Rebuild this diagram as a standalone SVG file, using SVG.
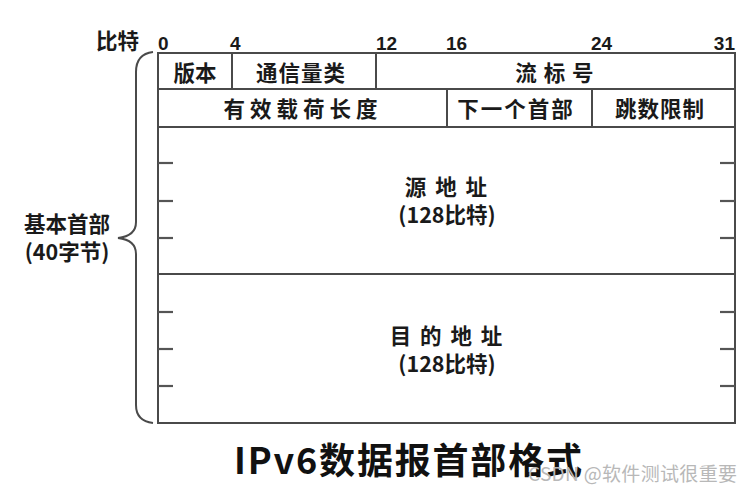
<svg xmlns="http://www.w3.org/2000/svg" width="753" height="494" viewBox="0 0 753 494">
<style>
.ln{stroke:#4a4a4a;stroke-width:2;fill:none}
.tk{stroke:#555;stroke-width:2.2;fill:none}
.t{font-family:"Noto Sans CJK SC","Liberation Sans",sans-serif;font-weight:700;fill:#1a1a1a;font-size:21.5px}
.n{font-family:"Liberation Sans","Noto Sans CJK SC",sans-serif;font-weight:700;fill:#1a1a1a;font-size:19px}
.c{text-anchor:middle}
</style>
<rect width="753" height="494" fill="#fff"/>
<g id="bit-scale">
<text class="t" x="96" y="49" font-size="23">比特</text>
<text class="n" x="158" y="50">0</text>
<text class="n" x="230" y="50">4</text>
<text class="n" x="376" y="50">12</text>
<text class="n" x="446" y="50">16</text>
<text class="n" x="591" y="50">24</text>
<text class="n" x="735" y="50" text-anchor="end">31</text>
</g>
<g id="connectors">
<path class="ln" d="M153,52 Q136,54 136,72 L136,222 Q136,236 118,238 Q136,240 136,254 L136,405 Q136,421 153,423"/>
</g>
<g id="header-table">
<rect class="ln" x="158" y="53" width="577" height="370"/>
<line class="ln" x1="158" y1="89" x2="735" y2="89"/>
<line class="ln" x1="158" y1="127" x2="735" y2="127"/>
<line class="ln" x1="158" y1="274" x2="735" y2="274"/>
<line class="ln" x1="232" y1="53" x2="232" y2="89"/>
<line class="ln" x1="376" y1="53" x2="376" y2="89"/>
<line class="ln" x1="447" y1="89" x2="447" y2="127"/>
<line class="ln" x1="592" y1="89" x2="592" y2="127"/>
<g id="ticks">
<line class="tk" x1="158" y1="163" x2="173" y2="163"/>
<line class="tk" x1="158" y1="201" x2="173" y2="201"/>
<line class="tk" x1="158" y1="238" x2="173" y2="238"/>
<line class="tk" x1="158" y1="312" x2="173" y2="312"/>
<line class="tk" x1="158" y1="349" x2="173" y2="349"/>
<line class="tk" x1="158" y1="386" x2="173" y2="386"/>
<line class="tk" x1="720" y1="163" x2="735" y2="163"/>
<line class="tk" x1="720" y1="201" x2="735" y2="201"/>
<line class="tk" x1="720" y1="238" x2="735" y2="238"/>
<line class="tk" x1="720" y1="312" x2="735" y2="312"/>
<line class="tk" x1="720" y1="349" x2="735" y2="349"/>
<line class="tk" x1="720" y1="386" x2="735" y2="386"/>
</g>
</g>
<g id="version"><text class="t c" x="195" y="81">版本</text></g>
<g id="traffic-class"><text class="t c" x="301" y="81" letter-spacing="1">通信量类</text></g>
<g id="flow-label"><text class="t c" x="555" y="81" letter-spacing="1">流 标 号</text></g>
<g id="payload-length"><text class="t c" x="303" y="117" letter-spacing="5">有效载荷长度</text></g>
<g id="next-header"><text class="t c" x="516" y="117" letter-spacing="2">下一个首部</text></g>
<g id="hop-limit"><text class="t c" x="660" y="117" letter-spacing="1">跳数限制</text></g>
<g id="source-address">
<text class="t c" x="447" y="195" letter-spacing="2">源 地 址</text>
<text class="t c" x="447" y="223" font-size="20.5">(128比特)</text>
</g>
<g id="destination-address">
<text class="t c" x="447" y="344" letter-spacing="2">目 的 地 址</text>
<text class="t c" x="447" y="372" font-size="20.5">(128比特)</text>
</g>
<g id="basic-header">
<text class="t c" x="67" y="232" font-size="22.5">基本首部</text>
<text class="t c" x="67" y="260" font-size="21">(40字节)</text>
</g>
<g id="title">
<text x="234" y="474" font-family="Noto Sans CJK SC, Liberation Sans, sans-serif" font-weight="700" font-size="36" fill="#111" textLength="348" lengthAdjust="spacing">IPv6数据报首部格式</text>
</g>
<text x="528" y="481" font-family="Noto Sans CJK SC, Liberation Sans, sans-serif" font-size="19" fill="#b8b8b8" textLength="209" lengthAdjust="spacing">CSDN @软件测试很重要</text>
</svg>
